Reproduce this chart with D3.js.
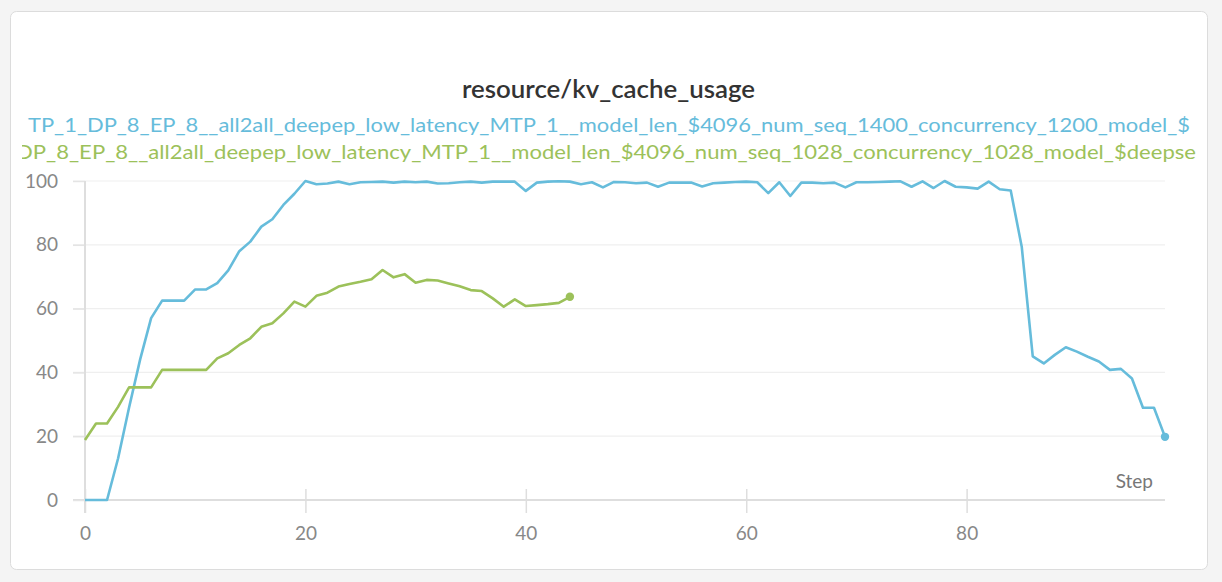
<!DOCTYPE html>
<html>
<head>
<meta charset="utf-8">
<script src="https://cdn.jsdelivr.net/npm/d3@7"></script>
<style>
  body { margin: 0; background: #f4f4f4; font-family: Lato, "Open Sans", sans-serif; }
  #chart { position: absolute; left: 0; top: 0; }
</style>
</head>
<body>
<div id="chart"></div>
<script>
// data
const steps = d3.range(0, 99);
const blueValues = [
  0, 0, 0, 13, 29, 44, 57, 62.5, 62.5, 62.5,
  66, 66, 68, 72, 78, 81, 85.7, 88, 92.5, 96,
  100, 99, 99.2, 99.8, 99, 99.6, 99.7, 99.8, 99.5, 99.8,
  99.6, 99.8, 99.2, 99.3, 99.6, 99.8, 99.5, 99.8, 99.8, 99.8,
  96.9, 99.5, 99.8, 99.9, 99.8, 99, 99.6, 98, 99.7, 99.6,
  99.3, 99.5, 98.2, 99.5, 99.5, 99.5, 98.3, 99.3, 99.5, 99.7,
  99.8, 99.6, 96.2, 99.6, 95.3, 99.5, 99.5, 99.3, 99.5, 98,
  99.6, 99.6, 99.7, 99.8, 99.9, 98.2, 99.9, 97.8, 100, 98.2,
  98, 97.6, 99.8, 97.4, 97, 79.4, 45, 42.8, 45.5, 47.9,
  46.5, 44.9, 43.4, 40.8, 41.1, 38.1, 28.9, 28.9, 19.8
];
const greenValues = [
  18.8, 24, 24, 29.2, 35.3, 35.3, 35.3, 40.8, 40.8, 40.8,
  40.8, 40.8, 44.4, 46, 48.6, 50.7, 54.3, 55.4, 58.5, 62.2,
  60.6, 64, 65, 66.9, 67.7, 68.4, 69.2, 72.1, 69.8, 70.8,
  68.1, 69, 68.8, 67.9, 67, 65.8, 65.5, 63.2, 60.6, 62.9,
  60.8, 61.1, 61.4, 61.8, 63.7
];
const seriesNames = [
  "TP_1_DP_8_EP_8__all2all_deepep_low_latency_MTP_1__model_len_$4096_num_seq_1400_concurrency_1200_model_$",
  "DP_8_EP_8__all2all_deepep_low_latency_MTP_1__model_len_$4096_num_seq_1028_concurrency_1028_model_$deepse"
];
const seriesColors = ["#66bcdb", "#9cc15a"];
const yTicks = [0, 20, 40, 60, 80, 100];
const xTicks = [0, 20, 40, 60, 80];

const W = 1222, H = 582;

const svg = d3.select("#chart")
    .append("svg")
    .attr("width", W)
    .attr("height", H);

// panel card
svg.append("rect")
    .attr("x", 10.5).attr("y", 11.5)
    .attr("width", 1197).attr("height", 558)
    .attr("rx", 6)
    .attr("fill", "#fff")
    .attr("stroke", "#dcdcdc");

svg.append("clipPath").attr("id", "panel-clip")
  .append("rect")
    .attr("x", 22).attr("y", 100)
    .attr("width", 1174).attr("height", 70);

// title
svg.append("text")
    .attr("x", 462)
    .attr("y", 98)
    .attr("textLength", 293)
    .attr("lengthAdjust", "spacingAndGlyphs")
    .style("font-size", "24px")
    .style("font-weight", "600")
    .style("fill", "#333")
    .text("resource/kv_cache_usage");

// legend lines (overflowing, clipped by the panel)
const legend = svg.append("g").attr("clip-path", "url(#panel-clip)");
const legendX = [28, 16];
const legendW = [1162, 1180];
seriesNames.forEach((name, i) => {
  legend.append("text")
      .attr("x", legendX[i])
      .attr("y", 132 + i * 27)
      .attr("textLength", legendW[i])
      .attr("lengthAdjust", "spacingAndGlyphs")
      .style("font-size", "20px")
      .style("fill", seriesColors[i])
      .text(name);
});

// scales
const x = d3.scaleLinear().domain([0, 98]).range([85, 1165]);
const y = d3.scaleLinear().domain([0, 100]).range([500, 181]);

// gridlines
svg.append("g")
  .selectAll("line")
  .data(yTicks)
  .join("line")
    .attr("x1", 73).attr("x2", 1165)
    .attr("y1", d => y(d)).attr("y2", d => y(d))
    .attr("stroke", d => d === 0 ? "#dedede" : "#efefef")
    .attr("stroke-width", d => d === 0 ? 2 : 1.2);

// y axis
const yAxis = g => g
    .attr("transform", "translate(85,0)")
    .call(d3.axisLeft(y).tickValues(yTicks).tickSize(12).tickPadding(15))
    .call(g => g.select(".domain").remove())
    .call(g => g.selectAll(".tick line").attr("stroke", "#e4e4e4").attr("stroke-width", 1.5))
    .call(g => g.selectAll(".tick text").style("font-size", "19px").style("fill", "#888").style("font-family", "Lato"));
svg.append("g").call(yAxis);

svg.append("line")
    .attr("x1", 85).attr("x2", 85)
    .attr("y1", 181).attr("y2", 513)
    .attr("stroke", "#dedede")
    .attr("stroke-width", 2);

// x axis
const xAxis = g => g
    .attr("transform", "translate(0,500)")
    .call(d3.axisBottom(x).tickValues(xTicks).tickSize(13).tickPadding(14))
    .call(g => g.select(".domain").remove())
    .call(g => g.selectAll(".tick line").attr("y1", -11).attr("stroke", "#dedede").attr("stroke-width", 1.5))
    .call(g => g.selectAll(".tick text").style("font-size", "19px").style("fill", "#888").style("font-family", "Lato"));
svg.append("g").call(xAxis);

svg.append("text")
    .attr("x", 1153)
    .attr("y", 488)
    .attr("text-anchor", "end")
    .style("font-size", "19px")
    .style("fill", "#777")
    .text("Step");

// lines
const line = d3.line()
    .x((d, i) => x(steps[i]))
    .y(d => y(d));

[blueValues, greenValues].forEach((vals, i) => {
  svg.append("path")
      .datum(vals)
      .attr("fill", "none")
      .attr("stroke", seriesColors[i])
      .attr("stroke-width", 2.6)
      .attr("stroke-linejoin", "round")
      .attr("d", line);
  const last = vals.length - 1;
  svg.append("circle")
      .attr("cx", x(steps[last]))
      .attr("cy", y(vals[last]))
      .attr("r", 4.2)
      .attr("fill", seriesColors[i]);
});
</script>
</body>
</html>
